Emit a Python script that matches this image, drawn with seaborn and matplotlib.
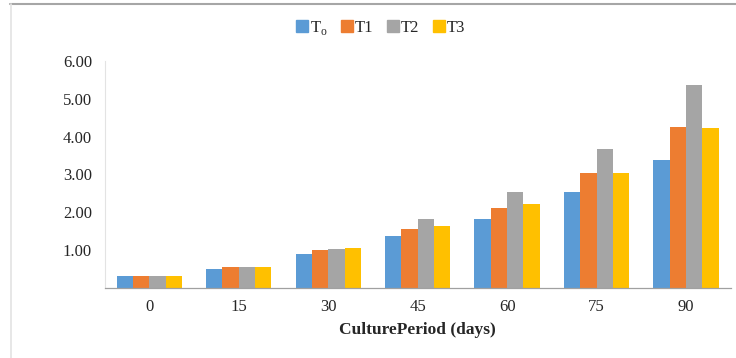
import seaborn as sns
import matplotlib.pyplot as plt
import pandas as pd
from matplotlib.lines import Line2D

# values
days = ['0', '15', '30', '45', '60', '75', '90']
treatments = ['T$_\\mathregular{o}$', 'T1', 'T2', 'T3']
T0 = [0.31, 0.49, 0.89, 1.37, 1.81, 2.53, 3.38]
T1 = [0.31, 0.54, 0.99, 1.55, 2.12, 3.03, 4.25]
T2 = [0.31, 0.54, 1.03, 1.81, 2.53, 3.68, 5.36]
T3 = [0.31, 0.54, 1.06, 1.64, 2.22, 3.03, 4.22]
colors = ['#5B9BD5', '#ED7D31', '#A5A5A5', '#FFC000']

rows = []
for name, vals in zip(treatments, [T0, T1, T2, T3]):
    for d, v in zip(days, vals):
        rows.append({'Day': d, 'Treatment': name, 'Value': v})
df = pd.DataFrame(rows)

sns.set_style('white')
plt.rcParams['font.family'] = ['Liberation Serif', 'DejaVu Serif']
plt.rcParams['mathtext.fontset'] = 'custom'
plt.rcParams['mathtext.rm'] = 'Liberation Serif'

fig = plt.figure(figsize=(7.36, 3.58), dpi=100)
ax = fig.add_axes([0.142, 0.196, 0.851, 0.634])

sns.barplot(data=df, x='Day', y='Value', hue='Treatment', palette=colors,
            width=0.73, gap=0, saturation=1, linewidth=0, ax=ax, legend=False)

ax.set_ylim(0, 6)
ax.set_xlim(-0.5, 6.5)
ax.set_yticks([1, 2, 3, 4, 5, 6])
ax.set_yticklabels(['%.2f' % t for t in [1, 2, 3, 4, 5, 6]], fontsize=12)
ax.set_xticks(range(7))
ax.set_xticklabels(days, fontsize=12)
ax.set_xticks([i + 0.5 for i in range(-1, 7)], minor=True)
ax.tick_params(axis='x', which='major', length=0, pad=8)
ax.tick_params(axis='x', which='minor', length=5, color='#A0A0A0', width=0.8, direction='out')
ax.tick_params(axis='y', length=5, color='#D9D9D9', width=0.8, direction='out', pad=4)

for s in ['top', 'right']:
    ax.spines[s].set_visible(False)
ax.spines['left'].set_color('#E3E3E3')
ax.spines['left'].set_linewidth(0.8)
ax.spines['bottom'].set_color('#A0A0A0')
ax.spines['bottom'].set_linewidth(0.9)

ax.set_ylabel('')
ax.set_xlabel('CulturePeriod (days)', fontsize=12.5, fontweight='bold', labelpad=5)

handles = [Line2D([], [], marker='s', linestyle='', markersize=8, color=c) for c in colors]
fig.legend(handles, treatments, loc='center', bbox_to_anchor=(0.516, 0.922), ncol=4,
           frameon=False, fontsize=12, handletextpad=0.05, columnspacing=0.7,
           handlelength=0.9)

# chart frame
fig.add_artist(Line2D([10 / 736, 1], [1 - 4 / 358, 1 - 4 / 358], color='#A6A6A6', lw=1.5,
                      transform=fig.transFigure))
fig.add_artist(Line2D([11 / 736, 11 / 736], [0, 1 - 4 / 358], color='#E3E3E3', lw=1.2,
                      transform=fig.transFigure))

plt.savefig('out.png', dpi=100)
